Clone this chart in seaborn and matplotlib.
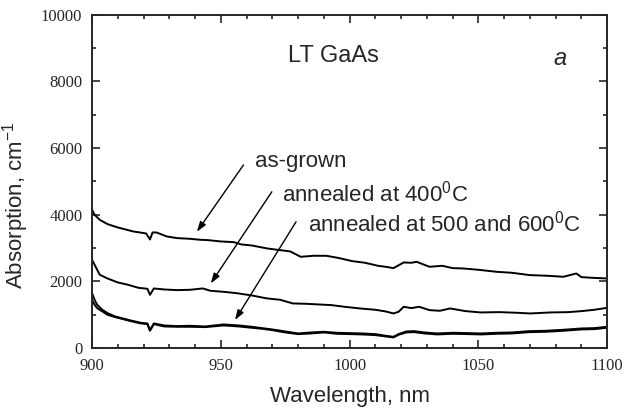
import numpy as np
import pandas as pd
import matplotlib
matplotlib.use("Agg")
import matplotlib.pyplot as plt
from matplotlib.ticker import MultipleLocator
import seaborn as sns

# data
wl_asgrown = [900, 901, 903, 906, 910, 916, 921, 922.5, 923.5, 925, 929, 933, 938, 942, 945,
              950, 955, 958, 962, 968, 973, 977, 981, 986, 991, 996, 1001, 1006, 1011, 1014,
              1017, 1021, 1024, 1026, 1029, 1031, 1036, 1040, 1044, 1050, 1057, 1063, 1070,
              1077, 1083, 1088, 1090, 1094, 1097, 1100]
abs_asgrown = [4150, 4000, 3850, 3720, 3620, 3500, 3440, 3260, 3470, 3470, 3350, 3300, 3280,
               3250, 3240, 3200, 3180, 3110, 3080, 2990, 2940, 2900, 2740, 2770, 2770, 2700,
               2610, 2560, 2470, 2440, 2400, 2570, 2560, 2590, 2500, 2440, 2470, 2400, 2390,
               2350, 2290, 2260, 2190, 2170, 2140, 2240, 2130, 2110, 2100, 2090]

wl_400 = [900, 901, 903, 906, 910, 914, 918, 921.5, 922.5, 924, 928, 933, 938, 943, 946, 951,
          956, 962, 968, 973, 978, 983, 988, 993, 998, 1004, 1010, 1014, 1017, 1019, 1021,
          1024, 1027, 1031, 1035, 1039, 1045, 1051, 1058, 1065, 1070, 1078, 1085, 1090, 1095,
          1100]
abs_400 = [2650, 2500, 2200, 2090, 1970, 1900, 1810, 1780, 1600, 1790, 1760, 1740, 1750, 1790,
           1720, 1690, 1650, 1580, 1490, 1450, 1340, 1330, 1310, 1290, 1240, 1190, 1150, 1100,
           1040, 1090, 1240, 1200, 1240, 1140, 1120, 1190, 1110, 1070, 1080, 1060, 1040, 1070,
           1080, 1110, 1150, 1210]

wl_hi = [900, 901, 902, 904, 906, 909, 912, 915, 919, 921.5, 922.5, 924, 928, 933, 938, 944,
         951, 957, 962, 966, 970, 975, 980, 985, 990, 995, 1000, 1005, 1010, 1014, 1017, 1019,
         1022, 1025, 1029, 1034, 1040, 1046, 1051, 1057, 1063, 1070, 1076, 1083, 1090, 1095,
         1100]
abs_500 = [1650, 1450, 1300, 1150, 1050, 950, 890, 830, 760, 740, 540, 740, 680, 660, 670, 650,
           710, 680, 640, 600, 560, 500, 440, 470, 490, 460, 450, 440, 420, 370, 340, 420, 500,
           510, 470, 440, 460, 450, 440, 460, 470, 510, 520, 550, 590, 600, 640]
abs_600 = [1450, 1300, 1200, 1100, 1000, 930, 870, 810, 740, 720, 520, 720, 650, 640, 640, 630,
           680, 650, 610, 580, 540, 470, 420, 440, 470, 430, 420, 410, 390, 350, 320, 400, 470,
           480, 440, 410, 430, 420, 410, 430, 440, 480, 490, 520, 560, 570, 610]

df = pd.concat([
    pd.DataFrame({"wl": wl_asgrown, "a": abs_asgrown, "s": "as-grown"}),
    pd.DataFrame({"wl": wl_400, "a": abs_400, "s": "400"}),
    pd.DataFrame({"wl": wl_hi, "a": abs_500, "s": "500"}),
    pd.DataFrame({"wl": wl_hi, "a": abs_600, "s": "600"}),
])

sns.set_style("ticks")
plt.rcParams["mathtext.fontset"] = "custom"
plt.rcParams["mathtext.rm"] = "Liberation Sans"
plt.rcParams["mathtext.it"] = "Liberation Sans:italic"

fig = plt.figure(figsize=(6.26, 4.11), dpi=100)
ax = fig.add_axes([0.147, 0.153, 0.823, 0.811])

sns.lineplot(data=df, x="wl", y="a", units="s", estimator=None, color="black",
             linewidth=1.4, sort=False, ax=ax)

ax.set_xlim(900, 1100)
ax.set_ylim(0, 10000)
ax.xaxis.set_major_locator(MultipleLocator(50))
ax.xaxis.set_minor_locator(MultipleLocator(10))
ax.yaxis.set_major_locator(MultipleLocator(2000))
ax.yaxis.set_minor_locator(MultipleLocator(1000))
ax.tick_params(which="both", direction="in", top=True, right=True, width=1.2)
ax.tick_params(which="major", length=6, pad=7)
ax.tick_params(which="minor", length=3)
for lab in ax.get_xticklabels() + ax.get_yticklabels():
    lab.set_fontfamily("Liberation Serif")
    lab.set_fontsize(12)
for sp in ax.spines.values():
    sp.set_linewidth(1.4)

ax.set_xlabel("Wavelength, nm", fontsize=16, family="Liberation Sans")
ax.set_ylabel("Absorption, cm$^{-1}$", fontsize=16, family="Liberation Sans")
ax.xaxis.set_label_coords(0.5, -0.115)
ax.yaxis.set_label_coords(-0.118, 0.43)

ax.text(976, 8750, "LT GaAs", fontsize=17, family="Liberation Sans", va="center")
ax.text(1079, 8700, "a", fontsize=17, family="Liberation Sans", style="italic", va="center")

txt = dict(fontsize=16, family="Liberation Sans", va="center")
ax.text(963.3, 5590, "as-grown", **txt)
ax.text(973.7, 4645, "annealed at 400$^0$C", **txt)
ax.text(984.0, 3745, "annealed at 500 and 600$^0$C", **txt)

arrow = dict(arrowstyle="-|>,head_length=0.6,head_width=0.2", color="black", lw=1.0,
             shrinkA=0, shrinkB=0)
ax.annotate("", xy=(940.7, 3490), xytext=(958.8, 5495), arrowprops=arrow)
ax.annotate("", xy=(946.1, 1940), xytext=(969.8, 4690), arrowprops=arrow)
ax.annotate("", xy=(955.5, 840), xytext=(979.2, 3790), arrowprops=arrow)

fig.savefig("out.png", dpi=100)
